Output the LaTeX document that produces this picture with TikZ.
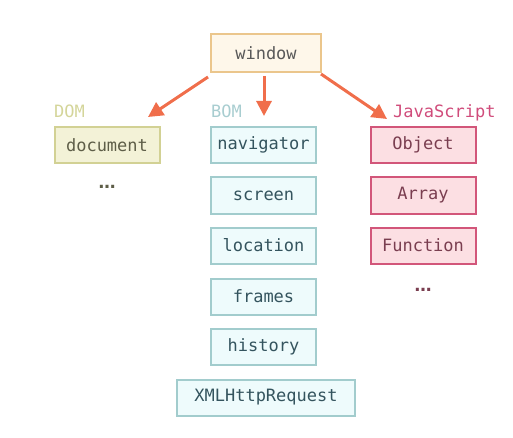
\documentclass[tikz,border=0pt]{standalone}
\usepackage{fontspec}
\setmonofont{DejaVu Sans Mono}
\newfontfamily\dotsfont{DejaVu Sans}
\usetikzlibrary{arrows.meta,positioning}
\definecolor{winfill}{HTML}{FEF7EA}
\definecolor{windraw}{HTML}{EBC68C}
\definecolor{domfill}{HTML}{F3F2D7}
\definecolor{domdraw}{HTML}{D2D194}
\definecolor{domtext}{HTML}{5E5E48}
\definecolor{domlabel}{HTML}{D4D59A}
\definecolor{bomfill}{HTML}{EEFBFC}
\definecolor{bomdraw}{HTML}{A2CCCD}
\definecolor{bomtext}{HTML}{34545E}
\definecolor{bomlabel}{HTML}{A8CDD0}
\definecolor{jsfill}{HTML}{FCDFE3}
\definecolor{jsdraw}{HTML}{D2567A}
\definecolor{jstext}{HTML}{7A3E50}
\definecolor{jslabel}{HTML}{D04C7B}
\definecolor{arrowcol}{HTML}{F06E4B}
\tikzset{every node/.style={font=\ttfamily\fontsize{17}{20}\selectfont},
  box/.style={draw, line width=2pt, minimum width=105pt, minimum height=36pt, inner xsep=4pt},
  winbox/.style={box, fill=winfill, draw=windraw, text=black!65, minimum width=110pt, minimum height=38pt},
  dombox/.style={box, fill=domfill, draw=domdraw, text=domtext},
  bombox/.style={box, fill=bomfill, draw=bomdraw, text=bomtext},
  jsbox/.style={box, fill=jsfill, draw=jsdraw, text=jstext},
  grouplabel/.style={anchor=base west, inner sep=0pt},
  dots/.style={font=\dotsfont\bfseries\fontsize{17}{20}\selectfont},
  arr/.style={draw=arrowcol, line width=3pt, -{Triangle[width=15pt,length=15pt]}}}

\begin{document}
\begin{tikzpicture}[x=1pt,y=-1pt]
  \useasboundingbox (0,0) rectangle (513,438);
  \node[winbox] (window) at (266,53) {window};

  \node[dombox] (document) at (107,145) {document};
  \node[dots, domtext] (domdots) at (107,187) {…};
  \node[grouplabel, domlabel] (domlabel) at (54,118) {DOM};

  \node[bombox] (navigator) at (263.5,145) {navigator};
  \node[bombox] (screen) at (263.5,195.5) {screen};
  \node[bombox] (location) at (263.5,245.5) {location};
  \node[bombox] (frames) at (263.5,296.5) {frames};
  \node[bombox] (history) at (263.5,346.5) {history};
  \node[bombox, minimum width=178pt] (xhr) at (266,397.5) {XMLHttpRequest};
  \node[grouplabel, bomlabel] (bomlabel) at (211,118) {BOM};

  \node[jsbox] (object) at (423,145) {Object};
  \node[jsbox] (array) at (423,195.5) {Array};
  \node[jsbox] (function) at (423,245.5) {Function};
  \node[dots, jstext] (jsdots) at (423,290) {…};
  \node[grouplabel, jslabel] (jslabel) at (393,118) {JavaScript};

  \draw[arr] ([xshift=-2pt,yshift=-4pt]window.south west) -- ([xshift=41pt,yshift=9pt]document.north);
  \draw[arr] ([xshift=-2pt,yshift=-3pt]window.south) -- ([xshift=0.5pt,yshift=10pt]navigator.north);
  \draw[arr] ([xshift=-1pt,yshift=-1pt]window.south east) -- ([xshift=-36pt,yshift=7pt]object.north);
\end{tikzpicture}
\end{document}
